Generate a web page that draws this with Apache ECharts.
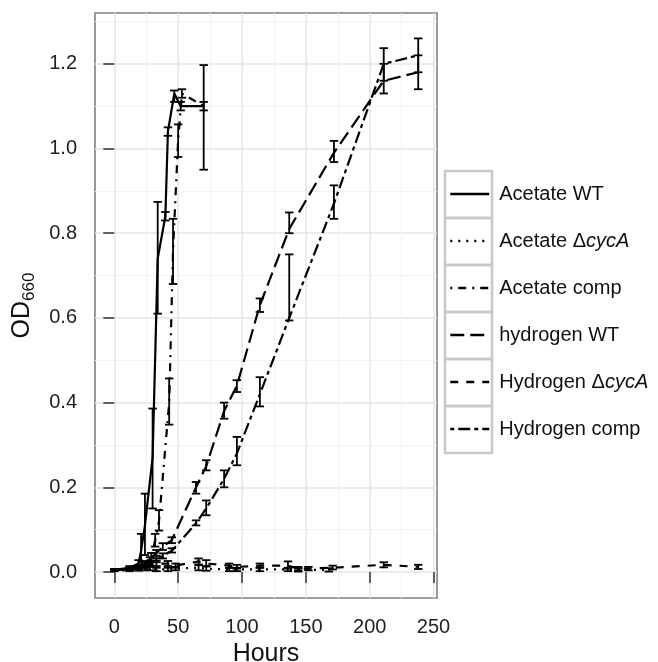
<!DOCTYPE html>
<html>
<head>
<meta charset="utf-8">
<script src="https://cdn.jsdelivr.net/npm/echarts@6/dist/echarts.min.js"></script>
<style>html,body{margin:0;padding:0;background:#fff;}</style>
</head>
<body>
<div id="main" style="width:658px;height:662px;"></div>
<script type="text/javascript">
// names as in the legend
var seriesNames = ['Acetate WT', 'Acetate \u0394cycA', 'Acetate comp', 'hydrogen WT', 'Hydrogen \u0394cycA', 'Hydrogen comp'];

// axis ticks
var xTicks = [0, 50, 100, 150, 200, 250];
var xMinor = [25, 75, 125, 175, 225];
var yTicks = [0, 0.2, 0.4, 0.6, 0.8, 1.0, 1.2];
var yMinor = [0.1, 0.3, 0.5, 0.7, 0.9, 1.1, 1.3];

// Acetate WT
var acWtHours = [0, 12, 19, 21, 24, 30, 34, 40, 42, 47, 52, 70];
var acWtOd   = [0.005, 0.01, 0.02, 0.05, 0.11, 0.27, 0.74, 0.84, 1.04, 1.13, 1.10, 1.10];
var acWtLow  = [0.003, 0.006, 0.012, 0.01, 0.04, 0.15, 0.61, 0.83, 1.03, 1.11, 1.09, 0.95];
var acWtHigh = [0.007, 0.014, 0.028, 0.09, 0.185, 0.386, 0.874, 0.85, 1.05, 1.137, 1.11, 1.197];

// Acetate dcycA
var acDelHours = [0, 12, 19, 24, 28, 33, 42, 48, 66, 72, 90, 96, 114, 136, 144, 168];
var acDelOd   = [0.004, 0.004, 0.006, 0.008, 0.008, 0.006, 0.006, 0.008, 0.01, 0.008, 0.006, 0.006, 0.006, 0.006, 0.005, 0.005];
var acDelLow  = [0.002, 0.002, 0.003, 0.004, 0.004, 0.002, 0.002, 0.004, 0.004, 0.003, 0.002, 0.002, 0.002, 0.002, 0.001, 0.001];
var acDelHigh = [0.006, 0.006, 0.009, 0.012, 0.012, 0.01, 0.01, 0.012, 0.016, 0.013, 0.01, 0.01, 0.01, 0.01, 0.009, 0.009];

// Acetate comp
var acCompHours = [0, 12, 19, 24, 29, 32, 35, 43, 46, 50, 53, 70];
var acCompOd   = [0.005, 0.008, 0.012, 0.02, 0.035, 0.075, 0.12, 0.40, 0.76, 1.02, 1.13, 1.10];
var acCompLow  = [0.003, 0.005, 0.008, 0.014, 0.025, 0.06, 0.098, 0.348, 0.68, 0.98, 1.12, 1.09];
var acCompHigh = [0.007, 0.011, 0.016, 0.026, 0.045, 0.09, 0.146, 0.457, 0.834, 1.057, 1.14, 1.11];

// hydrogen WT
var h2WtHours = [0, 12, 19, 24, 28, 33, 38, 45, 64, 72, 86, 96, 114, 137, 172, 211, 238];
var h2WtOd   = [0.005, 0.008, 0.012, 0.02, 0.03, 0.045, 0.06, 0.075, 0.20, 0.25, 0.38, 0.44, 0.63, 0.81, 0.99, 1.16, 1.18];
var h2WtLow  = [0.003, 0.006, 0.009, 0.016, 0.025, 0.038, 0.052, 0.068, 0.185, 0.24, 0.362, 0.425, 0.614, 0.80, 0.968, 1.13, 1.14];
var h2WtHigh = [0.007, 0.01, 0.015, 0.024, 0.035, 0.052, 0.068, 0.082, 0.2125, 0.264, 0.40, 0.453, 0.646, 0.849, 1.018, 1.20, 1.22];

// Hydrogen dcycA
var h2DelHours = [0, 12, 19, 24, 28, 33, 42, 48, 66, 72, 90, 96, 114, 136, 144, 152, 171, 211, 238];
var h2DelOd   = [0.005, 0.006, 0.01, 0.015, 0.02, 0.02, 0.02, 0.015, 0.025, 0.02, 0.015, 0.012, 0.015, 0.015, 0.008, 0.008, 0.01, 0.017, 0.012];
var h2DelLow  = [0.003, 0.004, 0.007, 0.01, 0.014, 0.014, 0.014, 0.01, 0.018, 0.014, 0.01, 0.008, 0.01, 0.008, 0.004, 0.004, 0.006, 0.011, 0.007];
var h2DelHigh = [0.007, 0.008, 0.013, 0.02, 0.027, 0.027, 0.026, 0.02, 0.032, 0.028, 0.02, 0.017, 0.02, 0.025, 0.012, 0.012, 0.015, 0.023, 0.017];

// Hydrogen comp
var h2CompHours = [0, 12, 19, 24, 28, 33, 38, 45, 64, 72, 86, 96, 114, 137, 172, 211, 238];
var h2CompOd   = [0.005, 0.006, 0.01, 0.015, 0.02, 0.028, 0.038, 0.05, 0.115, 0.15, 0.22, 0.28, 0.42, 0.60, 0.87, 1.20, 1.22];
var h2CompLow  = [0.003, 0.004, 0.007, 0.011, 0.016, 0.023, 0.032, 0.046, 0.11, 0.134, 0.20, 0.252, 0.391, 0.594, 0.834, 1.16, 1.18];
var h2CompHigh = [0.007, 0.008, 0.013, 0.019, 0.024, 0.033, 0.044, 0.056, 0.122, 0.169, 0.24, 0.319, 0.46, 0.75, 0.913, 1.237, 1.26];

var FONT = '"Liberation Sans", Arial, sans-serif';
var CAP = 3.3; // half width of the error bar caps (hours)

var myChart = echarts.init(document.getElementById('main'));

function curve(name, hours, od, dash) {
    return {
        name: name,
        type: 'line',
        data: hours.map(function (h, i) { return [h, od[i]]; }),
        symbol: 'none',
        z: 2,
        lineStyle: {color: '#000', width: 2.2, type: dash, cap: 'butt'},
        itemStyle: {color: '#000'}
    };
}

function errorBars(name, hours, low, high) {
    return {
        name: name + ' sd',
        type: 'custom',
        z: 3,
        encode: {x: 0, y: [1, 2]},
        data: hours.map(function (h, i) { return [h, low[i], high[i]]; }),
        renderItem: function (params, api) {
            var h = api.value(0), lo = api.value(1), hi = api.value(2);
            var a = api.coord([h, lo]);
            var b = api.coord([h, hi]);
            var l = api.coord([h - CAP, lo])[0];
            var r = api.coord([h + CAP, lo])[0];
            var st = {stroke: '#000', lineWidth: 1.8};
            return {
                type: 'group',
                children: [
                    {type: 'line', shape: {x1: a[0], y1: a[1], x2: b[0], y2: b[1]}, style: st},
                    {type: 'line', shape: {x1: l, y1: a[1], x2: r, y2: a[1]}, style: st},
                    {type: 'line', shape: {x1: l, y1: b[1], x2: r, y2: b[1]}, style: st}
                ]
            };
        }
    };
}

// grey boxes round the legend keys
var keyBoxes = seriesNames.map(function (n, i) {
    return {
        type: 'rect',
        silent: true,
        shape: {x: 445, y: 171 + i * 47, width: 47, height: 47},
        style: {fill: 'none', stroke: '#c8c8c8', lineWidth: 2.5}
    };
});

var option = {
    backgroundColor: '#fff',
    animation: false,
    grid: {
        left: 95, right: 221, top: 13, bottom: 64,
        outerBoundsMode: 'none', containLabel: false,
        show: true, borderColor: '#7f7f7f', borderWidth: 1.6, backgroundColor: '#fff'
    },
    graphic: keyBoxes,
    legend: {
        data: seriesNames,
        orient: 'vertical',
        left: 449, top: 184,
        padding: 0,
        itemWidth: 39, itemHeight: 20, itemGap: 27,
        selectedMode: false,
        itemStyle: {opacity: 0, borderWidth: 0},
        lineStyle: {width: 2.5},
        formatter: function (name) { return name.replace('cycA', '{i|cycA}'); },
        textStyle: {
            fontSize: 20, fontFamily: FONT, color: '#111', lineHeight: 20, padding: [0, 0, 0, 5],
            rich: {i: {fontSize: 20, fontFamily: FONT, color: '#111', fontStyle: 'italic'}}
        }
    },
    xAxis: [{
        type: 'value', min: -15.1, max: 252.7,
        name: 'Hours', nameLocation: 'middle', nameGap: 40,
        nameTextStyle: {fontSize: 25, fontFamily: FONT, color: '#111'},
        axisLine: {show: false},
        axisTick: {show: true, customValues: xTicks, length: 11, lineStyle: {color: '#333', width: 1.5}},
        axisLabel: {customValues: xTicks, fontSize: 20, fontFamily: FONT, color: '#222', margin: 19},
        splitLine: {show: true, lineStyle: {color: '#e4e4e4', width: 1.5}}
    }, {
        type: 'value', min: -15.1, max: 252.7, position: 'top',
        axisLine: {show: false},
        axisTick: {show: false, customValues: xMinor},
        axisLabel: {show: false, customValues: xMinor},
        splitLine: {show: true, lineStyle: {color: '#f2f2f2', width: 1.2}}
    }],
    yAxis: [{
        type: 'value', min: -0.0614, max: 1.32,
        name: '{a|OD}{s|660}', nameLocation: 'middle', nameGap: 52, nameRotate: 90,
        nameTextStyle: {
            fontSize: 25, fontFamily: FONT, color: '#111',
            rich: {
                a: {fontSize: 25, fontFamily: FONT, color: '#111', verticalAlign: 'top'},
                s: {fontSize: 17, fontFamily: FONT, color: '#111', verticalAlign: 'top', padding: [12, 0, 0, 0]}
            }
        },
        axisLine: {show: false},
        axisTick: {show: true, customValues: yTicks, length: 11, lineStyle: {color: '#333', width: 1.5}},
        axisLabel: {
            customValues: yTicks, fontSize: 20, fontFamily: FONT, color: '#222', margin: 18,
            formatter: function (v) { return v.toFixed(1); }
        },
        splitLine: {show: true, lineStyle: {color: '#e4e4e4', width: 1.5}}
    }, {
        type: 'value', min: -0.0614, max: 1.32, position: 'right',
        axisLine: {show: false},
        axisTick: {show: false, customValues: yMinor},
        axisLabel: {show: false, customValues: yMinor},
        splitLine: {show: true, lineStyle: {color: '#f2f2f2', width: 1.2}}
    }],
    series: [
        curve(seriesNames[0], acWtHours, acWtOd, 'solid'),
        curve(seriesNames[1], acDelHours, acDelOd, [2, 6]),
        curve(seriesNames[2], acCompHours, acCompOd, [2, 6, 8, 6]),
        curve(seriesNames[3], h2WtHours, h2WtOd, [14, 6]),
        curve(seriesNames[4], h2DelHours, h2DelOd, [8, 8]),
        curve(seriesNames[5], h2CompHours, h2CompOd, [4, 4, 12, 4]),
        errorBars(seriesNames[0], acWtHours, acWtLow, acWtHigh),
        errorBars(seriesNames[1], acDelHours, acDelLow, acDelHigh),
        errorBars(seriesNames[2], acCompHours, acCompLow, acCompHigh),
        errorBars(seriesNames[3], h2WtHours, h2WtLow, h2WtHigh),
        errorBars(seriesNames[4], h2DelHours, h2DelLow, h2DelHigh),
        errorBars(seriesNames[5], h2CompHours, h2CompLow, h2CompHigh)
    ]
};

myChart.setOption(option);
</script>
</body>
</html>
